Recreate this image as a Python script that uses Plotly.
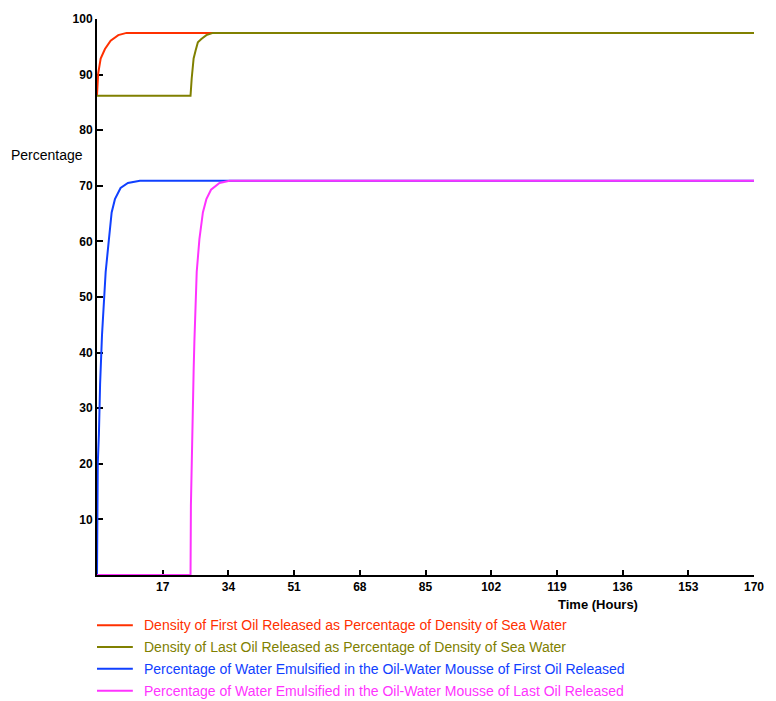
import plotly.graph_objects as go

# ---- data ----
hours_first_density = [0, 0.3, 0.95, 2.06, 3.53, 5.5, 7.65, 170]
first_density = [86.3, 90.2, 92.9, 94.6, 96.1, 97.1, 97.5, 97.5]

hours_last_density = [0, 24.2, 24.5, 25.0, 25.5, 26.1, 27.0, 28.3, 30.0, 170]
last_density = [86.2, 86.2, 89.3, 92.9, 94.3, 95.8, 96.4, 97.1, 97.5, 97.5]

hours_first_water = [0, 0.2, 0.5, 0.8, 1.3, 1.8, 2.24, 3.09, 3.79, 4.64, 6.1, 8.0, 11.1, 170]
first_water = [0, 20, 25.4, 34.3, 43.2, 49.1, 54.5, 60.4, 65.2, 67.6, 69.6, 70.5, 70.9, 70.9]

hours_last_water = [0, 24.2, 24.3, 24.5, 24.7, 25.0, 25.2, 25.4, 25.8, 26.5, 27.4, 28.3, 29.5, 31.7, 34.3, 170]
last_water = [0, 0, 12.5, 21.8, 29.1, 36.6, 42, 47.3, 54.5, 60.4, 65.2, 67.6, 69.3, 70.5, 70.9, 70.9]

series_names = [
    "Density of First Oil Released as Percentage of Density of Sea Water",
    "Density of Last Oil Released as Percentage of Density of Sea Water",
    "Percentage of Water Emulsified in the Oil-Water Mousse of First Oil Released",
    "Percentage of Water Emulsified in the Oil-Water Mousse of Last Oil Released",
]
series_colors = ["#FF3000", "#808000", "#1040FF", "#FF33FF"]

x_ticks = [17, 34, 51, 68, 85, 102, 119, 136, 153, 170]
y_ticks = [10, 20, 30, 40, 50, 60, 70, 80, 90, 100]

xs = [hours_first_density, hours_last_density, hours_first_water, hours_last_water]
ys = [first_density, last_density, first_water, last_water]

fig = go.Figure()
for x, y, name, color in zip(xs, ys, series_names, series_colors):
    fig.add_trace(go.Scatter(x=x, y=y, mode="lines", name=name,
                             line=dict(color=color, width=2),
                             cliponaxis=False, showlegend=False))

FONT = "Liberation Sans, Arial, sans-serif"
W, H = 776, 701
ml, mr, mt, mb = 97, 19, 15, 126
pw, ph = W - ml - mr, H - mt - mb

def px_x(p):
    return (p - ml) / pw

def px_y(p):
    return (H - mb - p) / ph

shapes = []
annotations = []
for i, (name, color) in enumerate(zip(series_names, series_colors)):
    yy = 625.5 + 22 * i
    shapes.append(dict(type="line", xref="paper", yref="paper",
                       x0=px_x(97), x1=px_x(133), y0=px_y(yy), y1=px_y(yy),
                       line=dict(color=color, width=2)))
    annotations.append(dict(text=name, xref="paper", yref="paper",
                            x=px_x(142), y=px_y(yy), xanchor="left", yanchor="middle",
                            showarrow=False, font=dict(family=FONT, size=14, color=color)))

annotations.append(dict(text="Percentage", xref="paper", yref="paper",
                        x=px_x(9), y=px_y(152), xanchor="left", yanchor="middle",
                        showarrow=False, font=dict(family=FONT, size=14, color="black")))
annotations.append(dict(text="<b>Time (Hours)</b>", xref="paper", yref="paper",
                        x=px_x(600), y=px_y(605), xanchor="center", yanchor="middle",
                        showarrow=False, font=dict(family=FONT, size=13, color="black")))

fig.update_layout(
    width=W, height=H,
    margin=dict(l=ml, r=mr, t=mt, b=mb, pad=0),
    paper_bgcolor="white", plot_bgcolor="white",
    font=dict(family=FONT, size=11, color="black"),
    shapes=shapes, annotations=annotations,
    xaxis=dict(range=[0, 170], tickvals=x_ticks, ticktext=[str(v) for v in x_ticks],
               showgrid=False, zeroline=False, showline=True, linecolor="black",
               linewidth=2, ticks="inside", ticklen=5, tickwidth=1.5, tickcolor="black",
               tickfont=dict(family=FONT, size=12, color="black", weight="bold"),
               layer="below traces", fixedrange=True),
    yaxis=dict(range=[0, 100], tickvals=y_ticks, ticktext=[str(v) for v in y_ticks],
               showgrid=False, zeroline=False, showline=True, linecolor="black",
               linewidth=2, ticks="inside", ticklen=6, tickwidth=1.5, tickcolor="black",
               tickfont=dict(family=FONT, size=12, color="black", weight="bold"),
               layer="below traces", fixedrange=True),
)

fig.write_html(
    "out.html",
    config={"displayModeBar": False},
    post_script="document.body.style.margin='0';document.body.style.overflow='hidden';",
)
